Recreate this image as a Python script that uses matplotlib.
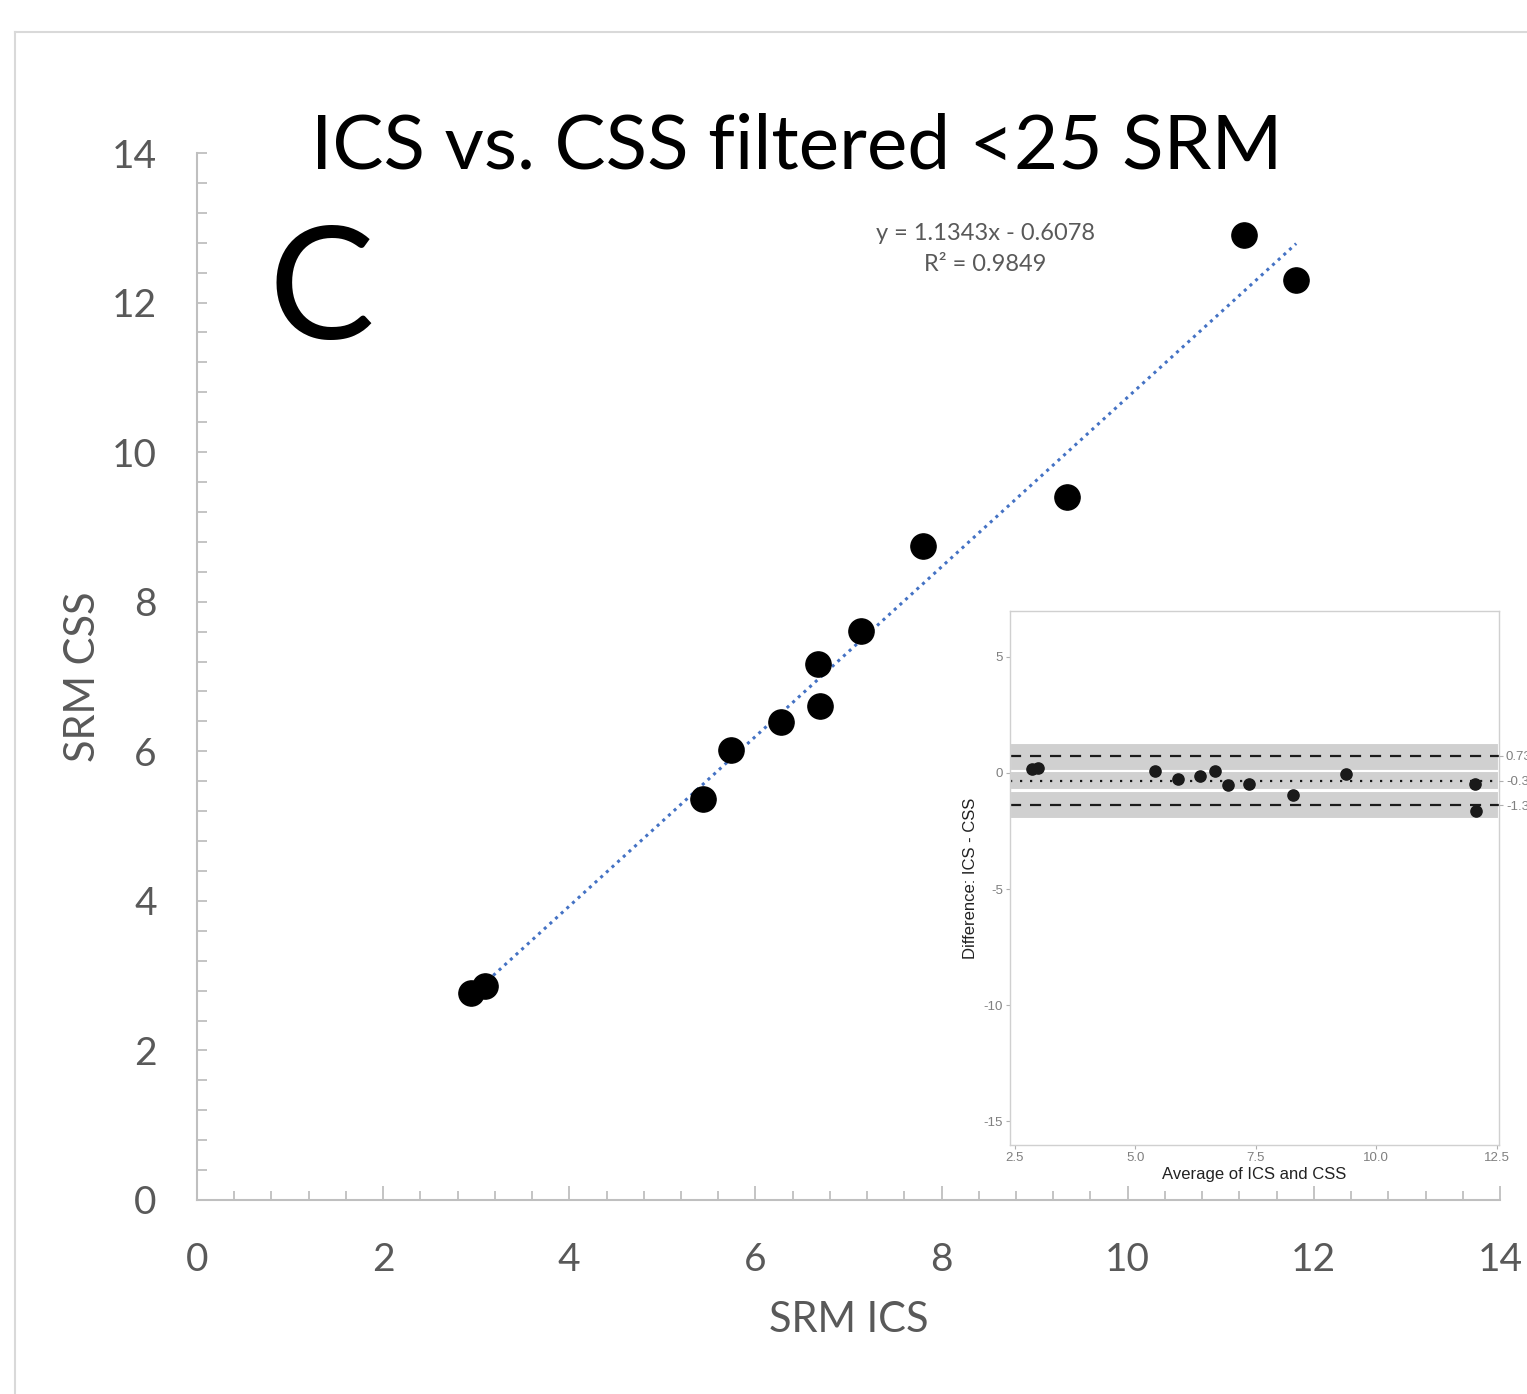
import numpy as np
import matplotlib
matplotlib.use('Agg')
import matplotlib.pyplot as plt
from matplotlib.ticker import MultipleLocator
from matplotlib.lines import Line2D

plt.rcParams['axes.unicode_minus'] = False

# SRM values
srm_ics = [2.94, 3.09, 5.44, 5.74, 6.28, 6.67, 6.69, 7.13, 7.80, 9.35, 11.25, 11.81]
srm_css = [2.77, 2.86, 5.36, 6.02, 6.39, 7.17, 6.60, 7.61, 8.74, 9.40, 12.90, 12.30]

slope = 1.1343
intercept = -0.6078
r2 = 0.9849

# confidence bands of the Bland-Altman inset
band_upper = [0.10, 1.31]
band_mean = [-0.75, 0.08]
band_lower = [-2.00, -0.77]

x_ticks = [0, 2, 4, 6, 8, 10, 12, 14]
y_ticks = [0, 2, 4, 6, 8, 10, 12, 14]

main_font = 'Lato'
inset_font = 'Liberation Sans'
grey_txt = '#595959'
axis_col = '#bfbfbf'

fig = plt.figure(figsize=(15.27, 13.94), dpi=100)

# outer chart frame (left and top edges visible)
fig.add_artist(Line2D([15 / 1527, 15 / 1527], [0, 1 - 32 / 1394], color='#d9d9d9', lw=1.5))
fig.add_artist(Line2D([15 / 1527, 1], [1 - 32 / 1394, 1 - 32 / 1394], color='#d9d9d9', lw=1.5))

ax = fig.add_axes([197 / 1527, 1 - 1200 / 1394, 1303 / 1527, 1047 / 1394])
ax.set_xlim(0, 14)
ax.set_ylim(0, 14)
for s in ['top', 'right']:
    ax.spines[s].set_visible(False)
for s in ['left', 'bottom']:
    ax.spines[s].set_color(axis_col)
    ax.spines[s].set_linewidth(1.5)

ax.xaxis.set_minor_locator(MultipleLocator(0.4))
ax.yaxis.set_minor_locator(MultipleLocator(0.4))
ax.set_xticks(x_ticks)
ax.set_yticks(y_ticks)
ax.tick_params(axis='x', which='major', direction='in', length=10, width=1.3, color=axis_col, pad=30,
               labelsize=28, labelcolor=grey_txt)
ax.tick_params(axis='x', which='minor', direction='in', length=6.5, width=1.3, color=axis_col)
ax.tick_params(axis='y', which='both', direction='in', length=7, width=1.3, color=axis_col, pad=29,
               labelsize=28, labelcolor=grey_txt)
for lab in ax.get_xticklabels() + ax.get_yticklabels():
    lab.set_fontfamily(main_font)

# trendline
xs = np.array([min(srm_ics), max(srm_ics)])
ax.plot(xs, slope * xs + intercept, linestyle=(0, (1, 1.5)), color='#4472C4', lw=2.2, zorder=2)
ax.scatter(srm_ics, srm_css, s=330, color='black', zorder=3)

ax.text(8.47, 12.93, f'y = {slope}x - {-intercept}', ha='center', va='center', fontsize=17,
        color=grey_txt, family=main_font)
ax.text(8.47, 12.51, f'R² = {r2}', ha='center', va='center', fontsize=17,
        color=grey_txt, family=main_font)

ax.set_xlabel('SRM ICS', fontsize=30, color=grey_txt, family=main_font, labelpad=17)
ax.set_ylabel('SRM CSS', fontsize=30, color=grey_txt, family=main_font, labelpad=7)

fig.text(797 / 1527, 1 - 147 / 1394, 'ICS vs. CSS filtered <25 SRM', ha='center', va='center',
         fontsize=55, color='black', family=main_font)
fig.text(321 / 1527, 1 - 294 / 1394, 'C', ha='center', va='center', fontsize=114,
         color='black', family=main_font)

# Bland-Altman inset
avg = [(a + b) / 2 for a, b in zip(srm_ics, srm_css)]
diff = [a - b for a, b in zip(srm_ics, srm_css)]
mean_d = np.mean(diff)
sd_d = np.std(diff, ddof=1)
upper = mean_d + 1.96 * sd_d
lower = mean_d - 1.96 * sd_d

ins = fig.add_axes([1010 / 1527, 1 - 1145 / 1394, 489 / 1527, 534 / 1394])
ins.set_xlim(2.4, 12.55)
ins.set_ylim(-16.03, 6.98)
for s in ins.spines.values():
    s.set_color('#d0d0d0')
    s.set_linewidth(1)
for lo, hi in [band_upper, band_mean, band_lower]:
    ins.axhspan(lo, hi, facecolor='#d0d0d0', edgecolor='white', lw=1.5, zorder=1)
ins.axhline(upper, color='#1a1a1a', lw=1.6, linestyle=(0, (5, 4)), zorder=2)
ins.axhline(lower, color='#1a1a1a', lw=1.6, linestyle=(0, (5, 4)), zorder=2)
ins.axhline(mean_d, color='#1a1a1a', lw=1.6, linestyle=(0, (1, 3.5)), zorder=2)
ins.scatter(avg, diff, s=65, color='#1a1a1a', zorder=3)

ins.set_xticks([2.5, 5.0, 7.5, 10.0, 12.5])
ins.set_xticklabels(['2.5', '5.0', '7.5', '10.0', '12.5'])
ins.set_yticks([5, 0, -5, -10, -15])
ins.tick_params(which='both', length=3, width=0.8, color='#b0b0b0', labelsize=9.5,
                labelcolor='#7f7f7f', pad=2)
for lab in ins.get_xticklabels() + ins.get_yticklabels():
    lab.set_fontfamily(inset_font)
ins.set_xlabel('Average of ICS and CSS', fontsize=12, color='#222222', family=inset_font, labelpad=2)
ins.set_ylabel('Difference: ICS - CSS', fontsize=12, color='#222222', family=inset_font, labelpad=4)

right = ins.twinx()
right.set_ylim(ins.get_ylim())
right.set_yticks([upper, mean_d, lower])
right.set_yticklabels([f'{v:.2f}' for v in [upper, mean_d, lower]])
right.tick_params(length=3, width=0.8, color='#b0b0b0', labelsize=9.5, labelcolor='#7f7f7f', pad=2)
for lab in right.get_yticklabels():
    lab.set_fontfamily(inset_font)
for s in right.spines.values():
    s.set_visible(False)

fig.savefig('out.png', dpi=100, facecolor='white')
